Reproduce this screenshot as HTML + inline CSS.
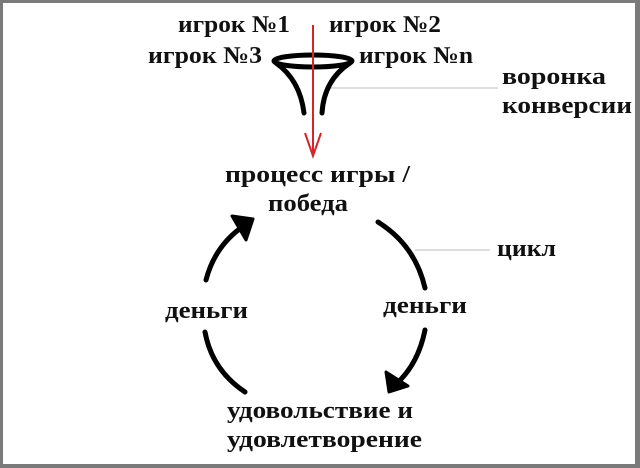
<!DOCTYPE html>
<html><head><meta charset="utf-8"><style>
html,body{margin:0;padding:0;background:#fff}
svg{display:block}
text{font-family:"Liberation Serif",serif;font-weight:bold;font-size:24px;fill:#111}
</style></head><body>
<svg width="640" height="468" viewBox="0 0 640 468" xmlns="http://www.w3.org/2000/svg">
<rect x="1.5" y="1.5" width="635" height="464" fill="#fff" stroke="#7a7a7a" stroke-width="3"/>
<rect x="636" y="0" width="4" height="468" fill="#7a7a7a"/>
<rect x="0" y="464" width="640" height="4" fill="#7a7a7a"/>
<text x="178" y="32" textLength="112" lengthAdjust="spacingAndGlyphs">игрок №1</text>
<text x="329" y="32" textLength="112" lengthAdjust="spacingAndGlyphs">игрок №2</text>
<text x="148" y="63" textLength="114" lengthAdjust="spacingAndGlyphs">игрок №3</text>
<text x="359" y="63" textLength="114" lengthAdjust="spacingAndGlyphs">игрок №n</text>
<text x="502" y="84" textLength="104" lengthAdjust="spacingAndGlyphs">воронка</text>
<text x="502" y="113" textLength="130" lengthAdjust="spacingAndGlyphs">конверсии</text>
<text x="225" y="182" textLength="185" lengthAdjust="spacingAndGlyphs">процесс игры /</text>
<text x="268" y="211" textLength="80" lengthAdjust="spacingAndGlyphs">победа</text>
<text x="497" y="256" textLength="59" lengthAdjust="spacingAndGlyphs">цикл</text>
<text x="165" y="318" textLength="83" lengthAdjust="spacingAndGlyphs">деньги</text>
<text x="383" y="313" textLength="84" lengthAdjust="spacingAndGlyphs">деньги</text>
<text x="227" y="418" textLength="186" lengthAdjust="spacingAndGlyphs">удовольствие и</text>
<text x="227" y="447" textLength="195" lengthAdjust="spacingAndGlyphs">удовлетворение</text>
<line x1="330" y1="88" x2="498" y2="88" stroke="#bbb" stroke-width="1"/>
<line x1="415" y1="250" x2="490" y2="250" stroke="#bbb" stroke-width="1"/>
<g fill="none" stroke="#000" stroke-width="5" stroke-linecap="round">
<ellipse cx="313" cy="61" rx="39" ry="6"/>
<path d="M276 63 Q300 80 304 113"/>
<path d="M350 63 Q324 80 322 113"/>
<path d="M206 280 Q215 245 245 225"/>
<path d="M378 222 Q415 245 425 288"/>
<path d="M205 332 Q212 370 245 392"/>
<path d="M425 330 Q418 365 395 385"/>
</g>
<path d="M232 216 L253 219 L246 240 Z" fill="#000" stroke="#000" stroke-width="3" stroke-linejoin="round"/>
<path d="M386 372 L389 392 L408 386 Z" fill="#000" stroke="#000" stroke-width="3" stroke-linejoin="round"/>
<line x1="313" y1="25" x2="313" y2="156" stroke="#d8232a" stroke-width="2"/>
<path d="M305 133 L313 156 L321 133" fill="none" stroke="#d8232a" stroke-width="2"/>
</svg>
</body></html>
